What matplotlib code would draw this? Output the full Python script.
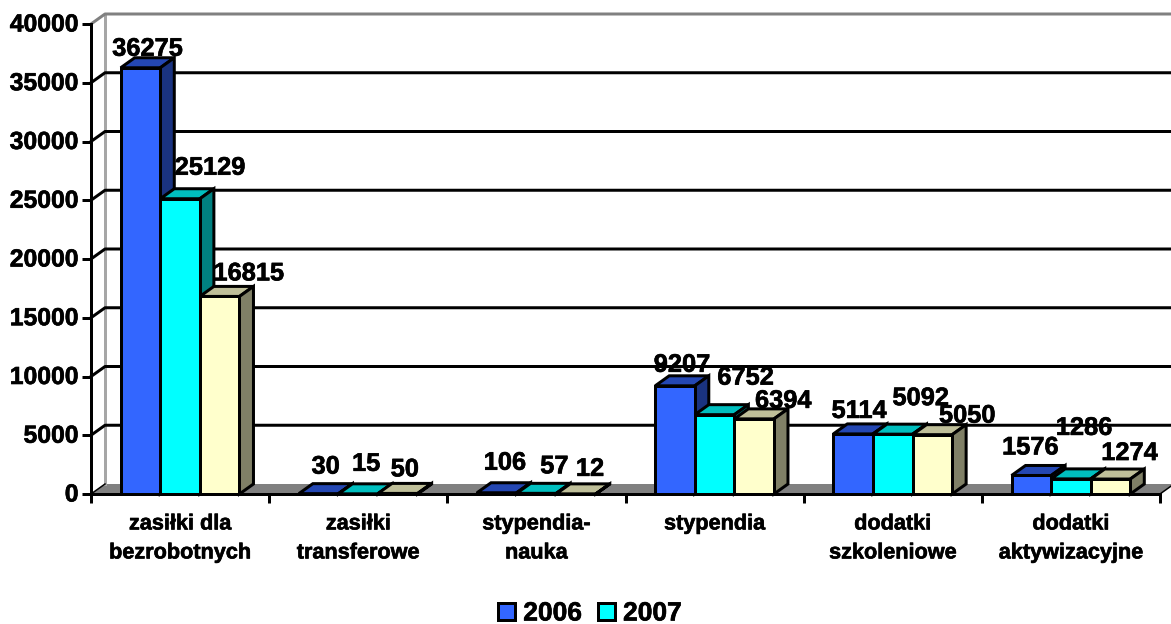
import numpy as np
import matplotlib
matplotlib.use('Agg')
import matplotlib.pyplot as plt
import matplotlib.patheffects as pe
from matplotlib.transforms import ScaledTranslation

plt.rcParams['font.family'] = ['Liberation Sans', 'DejaVu Sans']
plt.rcParams['font.weight'] = 'bold'

categories = ['zasiłki dla\nbezrobotnych', 'zasiłki\ntransferowe', 'stypendia-\nnauka',
              'stypendia', 'dodatki\nszkoleniowe', 'dodatki\naktywizacyjne']
values_2006 = [36275, 30, 106, 9207, 5114, 1576]
values_2007 = [25129, 15, 57, 6752, 5092, 1286]
values_third = [16815, 50, 12, 6394, 5050, 1274]
y_ticks = [0, 5000, 10000, 15000, 20000, 25000, 30000, 35000, 40000]

# label nudges in pixels from the top centre of each bar (excel scattered them)
nudge_x = [[7, 7, 8, 7, 6, -1], [30, 8, 18, 31, 28, 13], [29, 7, 14, 29, 35, 19]]
nudge_y = [[19, 27, 30, 21, 23, 28], [31, 30, 27, 37, 36, 51], [23, 24, 25, 18, 19, 26]]

W, H = 1171, 624
fig = plt.figure(figsize=(W / 100, H / 100), dpi=100)
ax = fig.add_axes([91 / W, (H - 494) / H, (1160 - 91) / W, 470 / H])
ax.patch.set_alpha(0)
ax.set_xlim(0, 6)
ax.set_ylim(0, 40000)

# 3d depth: 14 px right, 10 px up, expressed in data units
dx = 14 / (1069 / 6)
dy = 10 / (470 / 40000)
px = 72 / 100
edge = 3 * px
heavy = [pe.withStroke(linewidth=0.45, foreground='black')]

# floor and walls
ax.fill([0, 6, 6 + dx, dx], [0, 0, dy, dy], color='#808080', lw=0, clip_on=False, zorder=1)
ax.plot([dx, dx], [dy, 40000 + dy], color='#a6a6a6', lw=3 * px, clip_on=False, zorder=1.5)
ax.plot([0, dx, 6 + dx], [40000, 40000 + dy, 40000 + dy], color='#808080', lw=3 * px,
        clip_on=False, zorder=1.5)
for t in y_ticks[1:-1]:
    ax.plot([0, dx, 6 + dx], [t, t + dy, t + dy], color='black', lw=edge, clip_on=False, zorder=2)
ax.plot([0, dx], [0, dy], color='black', lw=edge * 0.5, clip_on=False, zorder=2)
ax.plot([6, 6 + dx], [0, dy], color='black', lw=edge * 0.5, clip_on=False, zorder=2)

series = [(values_2006, '#3366FF', '#2447B3', '#1A3380', '2006'),
          (values_2007, '#00FFFF', '#00BFBF', '#008080', '2007'),
          (values_third, '#FFFFCC', '#BFBF99', '#808066', None)]
bar_w = 1 / 4.5
z = 3
handles = []
for i in range(len(categories)):
    for s, (vals, front, top, side, name) in enumerate(series):
        x0 = i + 0.75 * bar_w + s * bar_w
        x1 = x0 + bar_w
        v = vals[i]
        ax.fill([x0, x1, x1 + dx, x0 + dx], [v, v, v + dy, v + dy], facecolor=top,
                edgecolor='black', lw=edge, joinstyle='miter', clip_on=False, zorder=z)
        ax.fill([x1, x1 + dx, x1 + dx, x1], [0, dy, v + dy, v], facecolor=side,
                edgecolor='black', lw=edge, joinstyle='miter', clip_on=False, zorder=z)
        b = ax.bar(x0, v, width=bar_w, align='edge', facecolor=front, edgecolor='black',
                   lw=edge, clip_on=False, zorder=z + 0.5, label=name)
        if i == 0 and name:
            handles.append(b)
        z += 1

for s, (vals, *_rest) in enumerate(series):
    for i, v in enumerate(vals):
        xc = i + 0.75 * bar_w + (s + 0.5) * bar_w
        ax.annotate(str(v), (xc, v), xytext=(nudge_x[s][i] * px, nudge_y[s][i] * px),
                    textcoords='offset points', ha='center', va='center',
                    fontsize=18.3, fontweight='bold', color='black', zorder=100,
                    annotation_clip=False, path_effects=heavy)

for name in ['top', 'right']:
    ax.spines[name].set_visible(False)
for name in ['left', 'bottom']:
    ax.spines[name].set_linewidth(edge)
    ax.spines[name].set_zorder(2.5)

ax.set_yticks(y_ticks)
ax.tick_params(axis='y', length=9 * px, width=edge, pad=2.5, labelsize=17.8)
ax.set_xticks(range(7))
ax.set_xticklabels([])
ax.tick_params(axis='x', which='major', length=9 * px, width=edge)
ax.set_xticks(np.arange(6) + 0.5, labels=categories, minor=True)
ax.tick_params(axis='x', which='minor', length=0, pad=14, labelsize=15.6)
for lab in ax.get_xticklabels(minor=True):
    lab.set_linespacing(1.5)
    lab.set_path_effects(heavy)
shift_up = ScaledTranslation(0, 2 * px / 72, fig.dpi_scale_trans)
for lab in ax.get_yticklabels():
    lab.set_path_effects(heavy)
    lab.set_transform(lab.get_transform() + shift_up)

leg = fig.legend(handles=handles, labels=['2006', '2007'], ncol=2, frameon=False,
                 loc='center', bbox_to_anchor=(590 / W, (H - 613.5) / H),
                 fontsize=19, handlelength=0.62, handleheight=0.62,
                 handletextpad=0.32, columnspacing=0.62, borderpad=0, borderaxespad=0)
for t in leg.get_texts():
    t.set_path_effects(heavy)

fig.savefig('out.png', dpi=100)
